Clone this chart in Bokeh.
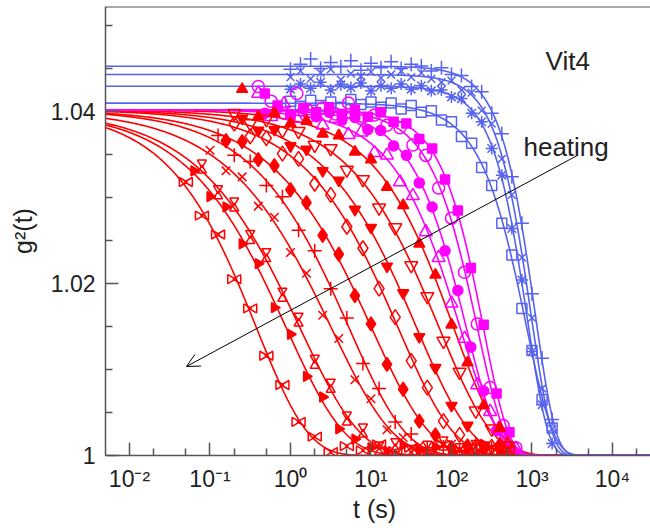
import numpy as np
from bokeh.plotting import figure
from bokeh.models import Range1d, FixedTicker, Arrow, OpenHead, Label, Span
from bokeh.embed import file_html
from bokeh.resources import INLINE

# ---------------- axes ----------------
X_START, X_END = 0.005035, 29650.0
Y_START, Y_END = 1.0, 1.05221
X_TICKS = [0.01, 0.1, 1.0, 10.0, 100.0, 1000.0, 10000.0]
X_TICK_LABELS = ["10\u207b\u00b2", "10\u207b\u00b9", "10\u2070", "10\u00b9", "10\u00b2", "10\u00b3", "10\u2074"]
X_MINOR = [0.02, 0.05, 0.2, 0.5, 2.0, 5.0, 20.0, 50.0, 200.0, 500.0, 2000.0, 5000.0, 20000.0]
Y_TICKS = [1.0, 1.02, 1.04]
Y_TICK_LABELS = ["1", "1.02", "1.04"]
Y_MINOR = [1.005, 1.01, 1.015, 1.025, 1.03, 1.035, 1.045, 1.05]

# ---------------- measurement times ----------------
T_GRID_A = [0.0501, 0.0794, 0.126, 0.200, 0.316, 0.501, 0.794, 1.26, 2.00, 3.16, 5.01,
            7.94, 12.6, 20.0, 31.6, 50.1, 79.4, 126, 200, 316, 501]
T_GRID_B = [0.0631, 0.100, 0.158, 0.251, 0.398, 0.631, 1.00, 1.58, 2.51, 3.98, 6.31,
            10.0, 15.8, 25.1, 39.8, 63.1, 100, 158, 251, 398]
T_GRID_M = [0.398, 0.575, 0.832, 1.20, 1.74, 2.51, 3.63, 5.25, 7.59, 11.0, 15.8, 22.9,
            33.1, 47.9, 69.2, 100, 145, 209, 302, 437, 631]
T_GRID_N = [0.479, 0.692, 1.00, 1.45, 2.09, 3.02, 4.37, 6.31, 9.12, 13.2, 19.1, 27.5,
            39.8, 57.5, 83.2, 120, 174, 251, 363, 525]
T_GRID_BL = [1.00, 1.33, 1.78, 2.37, 3.16, 4.22, 5.62, 7.50, 10.0, 13.3, 17.8, 23.7, 31.6,
             42.2, 56.2, 75.0, 100, 133, 178, 237, 316, 422, 562, 750, 1000, 1334, 1778]

# ---------------- g2 data (red, fast -> slow) ----------------
R1_T = T_GRID_A
R1_G = [1.0318, 1.0279, 1.0257, 1.0205, 1.0171, 1.0116, 1.0082, 1.0039, 1.0022, 1.0004, 1.0011,
        1.0006, 1.0013, 1.0005, 1.0009, 1.0004, 1.0012, 1.0007, 1.0003, 1.0010, 1.0006]
R2_T = T_GRID_B
R2_G = [1.0331, 1.0301, 1.0289, 1.0246, 1.0223, 1.0172, 1.0141, 1.0092, 1.0068, 1.0031, 1.0019,
        1.0009, 1.0005, 1.0012, 1.0006, 1.0010, 1.0003, 1.0008, 1.0013, 1.0005]
R3_T = T_GRID_A[1:]
R3_G = [1.0336, 1.0306, 1.0292, 1.0254, 1.0233, 1.0187, 1.0158, 1.0109, 1.0081, 1.0043, 1.0029,
        1.0008, 1.0012, 1.0004, 1.0009, 1.0014, 1.0006, 1.0010, 1.0003, 1.0008]
R4_T = T_GRID_B[1:]
R4_G = [1.0355, 1.0331, 1.0324, 1.0290, 1.0277, 1.0236, 1.0212, 1.0163, 1.0136, 1.0088, 1.0066,
        1.0030, 1.0021, 1.0011, 1.0005, 1.0013, 1.0008, 1.0004, 1.0010]
R5_T = T_GRID_A[2:]
R5_G = [1.0372, 1.0349, 1.0342, 1.0314, 1.0301, 1.0262, 1.0238, 1.0194, 1.0160, 1.0107, 1.0078,
        1.0039, 1.0025, 1.0009, 1.0010, 1.0006, 1.0013, 1.0008, 1.0004]
R6_T = T_GRID_B[2:]
R6_G = [1.0366, 1.0365, 1.0344, 1.0337, 1.0309, 1.0294, 1.0256, 1.0234, 1.0186, 1.0153, 1.0106,
        1.0077, 1.0040, 1.0024, 1.0009, 1.0011, 1.0007, 1.0012]
R7_T = T_GRID_A[3:]
R7_G = [1.0386, 1.0371, 1.0369, 1.0351, 1.0345, 1.0316, 1.0303, 1.0266, 1.0241, 1.0194, 1.0161,
        1.0110, 1.0079, 1.0040, 1.0024, 1.0009, 1.0010, 1.0013]
R8_T = T_GRID_B[3:]
R8_G = [1.0392, 1.0378, 1.0379, 1.0360, 1.0356, 1.0331, 1.0320, 1.0286, 1.0265, 1.0220, 1.0189,
        1.0138, 1.0102, 1.0058, 1.0035, 1.0012, 1.0009]
R9_T = T_GRID_A[3:]
R9_G = [1.0398, 1.0386, 1.0391, 1.0378, 1.0377, 1.0361, 1.0357, 1.0332, 1.0321, 1.0288, 1.0265,
        1.0221, 1.0185, 1.0133, 1.0097, 1.0052, 1.0031, 1.0011]
R10_T = T_GRID_B[3:]
R10_G = [1.0426, 1.0394, 1.0398, 1.0386, 1.0389, 1.0374, 1.0372, 1.0353, 1.0344, 1.0312, 1.0291,
         1.0246, 1.0210, 1.0152, 1.0108, 1.0058, 1.0032]

# ---------------- g2 data (magenta) ----------------
M1_T = T_GRID_M
M1_G = [1.0421, 1.0394, 1.0409, 1.0392, 1.0401, 1.0384, 1.0392, 1.0373, 1.0376, 1.0352, 1.0349,
        1.0318, 1.0302, 1.0260, 1.0230, 1.0177, 1.0136, 1.0082, 1.0051, 1.0019, 1.0008]
M2_T = T_GRID_N
M2_G = [1.0398, 1.0404, 1.0396, 1.0403, 1.0394, 1.0399, 1.0390, 1.0393, 1.0379, 1.0378, 1.0360,
        1.0349, 1.0317, 1.0289, 1.0238, 1.0192, 1.0126, 1.0075, 1.0029, 1.0011]
M3_T = T_GRID_M
M3_G = [1.0429, 1.0412, 1.0398, 1.0421, 1.0395, 1.0404, 1.0397, 1.0410, 1.0392, 1.0396, 1.0384,
        1.0381, 1.0361, 1.0349, 1.0311, 1.0276, 1.0213, 1.0153, 1.0079, 1.0035, 1.0009]
M4_T = T_GRID_N
M4_G = [1.0421, 1.0407, 1.0396, 1.0404, 1.0399, 1.0405, 1.0397, 1.0402, 1.0394, 1.0399, 1.0388,
        1.0386, 1.0368, 1.0357, 1.0321, 1.0285, 1.0218, 1.0152, 1.0072, 1.0027]

# ---------------- g2 data (blue) ----------------
B1_T = T_GRID_BL
B1_G = [1.0449, 1.0455, 1.0461, 1.0450, 1.0457, 1.0452, 1.0459, 1.0448, 1.0456, 1.0451, 1.0458,
        1.0450, 1.0455, 1.0453, 1.0447, 1.0451, 1.0443, 1.0442, 1.0429, 1.0423, 1.0398, 1.0374,
        1.0324, 1.0270, 1.0188, 1.0113, 1.0042]
B2_T = T_GRID_BL
B2_G = [1.0440, 1.0447, 1.0438, 1.0445, 1.0449, 1.0437, 1.0444, 1.0441, 1.0446, 1.0439, 1.0443,
        1.0447, 1.0440, 1.0445, 1.0438, 1.0434, 1.0436, 1.0425, 1.0422, 1.0401, 1.0386, 1.0345,
        1.0303, 1.0230, 1.0160, 1.0078, 1.0031]
B3_T = T_GRID_BL
B3_G = [1.0426, 1.0432, 1.0427, 1.0434, 1.0425, 1.0431, 1.0428, 1.0433, 1.0424, 1.0430, 1.0427,
        1.0432, 1.0426, 1.0430, 1.0424, 1.0425, 1.0417, 1.0415, 1.0398, 1.0388, 1.0357, 1.0326,
        1.0264, 1.0204, 1.0121, 1.0059, 1.0014]
B4_T = T_GRID_BL
B4_G = [1.0412, 1.0406, 1.0413, 1.0407, 1.0411, 1.0405, 1.0414, 1.0408, 1.0411, 1.0405, 1.0410,
        1.0403, 1.0407, 1.0399, 1.0401, 1.0390, 1.0388, 1.0371, 1.0363, 1.0335, 1.0314, 1.0270,
        1.0233, 1.0171, 1.0122, 1.0065, 1.0032]

# ---------------- KWW fit parameters: g2 = 1 + A exp(-(t/tau)^beta) ----------------
SERIES = ["R1", "R2", "R3", "R4", "R5", "R6", "R7", "R8", "R9", "R10",
          "M1", "M2", "M3", "M4", "B1", "B2", "B3", "B4"]
FIT_AMP = [0.0402] * 10 + [0.0402] * 4 + [0.04527, 0.0443, 0.04294, 0.04097]
FIT_TAU = [0.380, 0.891, 1.318, 3.236, 5.370, 10.23, 21.88, 37.15, 70.79, 107.2,
           128.8, 153.5, 210.4, 250.0, 1089.0, 977.0, 879.0, 851.0]
FIT_BETA = [0.68, 0.60, 0.58, 0.57, 0.62, 0.60, 0.63, 0.64, 0.66, 0.75,
            0.89, 1.10, 1.27, 1.40, 1.70, 1.70, 1.70, 1.30]

# ---------------- annotations ----------------
ARROW_T0, ARROW_G0 = 3670.0, 1.0349
ARROW_T1, ARROW_G1 = 0.051, 1.01035
VIT_T, VIT_G = 1472.0, 1.04593
HEAT_T, HEAT_G = 784.0, 1.03593

RED, MAG, BLUE = "#ff0000", "#ff00ff", "#5662f0"
FONT = "Liberation Sans"

DATA = {
    "R1": (R1_T, R1_G), "R2": (R2_T, R2_G), "R3": (R3_T, R3_G), "R4": (R4_T, R4_G),
    "R5": (R5_T, R5_G), "R6": (R6_T, R6_G), "R7": (R7_T, R7_G), "R8": (R8_T, R8_G),
    "R9": (R9_T, R9_G), "R10": (R10_T, R10_G),
    "M1": (M1_T, M1_G), "M2": (M2_T, M2_G), "M3": (M3_T, M3_G), "M4": (M4_T, M4_G),
    "B1": (B1_T, B1_G), "B2": (B2_T, B2_G), "B3": (B3_T, B3_G), "B4": (B4_T, B4_G),
}
# style: (marker, size, filled)
STYLE = {
    "R1": ("bowtie", 9, False),
    "R2": ("right_triangle", 10, True),
    "R3": ("hourglass", 9, False),
    "R4": ("x", 12, False),
    "R5": ("cross", 14, False),
    "R6": ("diamond", 14, True),
    "R7": ("diamond", 15, False),
    "R8": ("inverted_triangle", 11, True),
    "R9": ("inverted_triangle", 13, False),
    "R10": ("triangle", 11, True),
    "M1": ("triangle", 13, False),
    "M2": ("circle", 10, True),
    "M3": ("circle", 12, False),
    "M4": ("square", 9, True),
    "B1": ("cross", 14, False),
    "B2": ("x", 11, False),
    "B3": ("asterisk", 12, False),
    "B4": ("square", 10, False),
}

FIG_W, FIG_H = 650, 528
BORDER_L, BORDER_R, BORDER_T, BORDER_B = 105, 0, 6, 73
FRAME_W = FIG_W - BORDER_L - BORDER_R
FRAME_H = FIG_H - BORDER_T - BORDER_B


def color_of(name):
    return RED if name.startswith("R") else (MAG if name.startswith("M") else BLUE)


p = figure(width=FIG_W, height=FIG_H, x_axis_type="log",
           x_range=Range1d(X_START, X_END), y_range=Range1d(Y_START, Y_END),
           output_backend="svg", toolbar_location=None,
           min_border_left=BORDER_L, min_border_right=BORDER_R,
           min_border_top=BORDER_T, min_border_bottom=BORDER_B)
p.grid.visible = False
p.outline_line_color = None
p.background_fill_color = "white"
p.border_fill_color = "white"

# fit curves
t_line = np.logspace(np.log10(X_START), np.log10(X_END), 600)
for i, name in enumerate(SERIES):
    g_line = 1.0 + FIT_AMP[i] * np.exp(-(t_line / FIT_TAU[i]) ** FIT_BETA[i])
    p.line(t_line, g_line, line_color=color_of(name), line_width=1.6)

# pixel -> data conversions for the two-triangle (bowtie / hourglass) symbols
px_per_decade = FRAME_W / np.log10(X_END / X_START)
data_per_px_y = (Y_END - Y_START) / FRAME_H

# data markers (blue, magenta, red)
order = ["B4", "B3", "B2", "B1", "M1", "M2", "M3", "M4",
         "R1", "R2", "R3", "R4", "R5", "R6", "R7", "R8", "R9", "R10"]
for name in order:
    t, g = np.asarray(DATA[name][0], float), np.asarray(DATA[name][1], float)
    c = color_of(name)
    marker, size, filled = STYLE[name]
    kw = dict(line_color=c, line_width=1.5, fill_color=c if filled else None)
    if marker in ("bowtie", "hourglass"):
        h = size / 2 * np.sqrt(3)
        off = 0.5 * h
        if marker == "bowtie":
            f = 10 ** (off / px_per_decade)
            p.scatter(t / f, g, marker="triangle", size=size, angle=-np.pi / 2, **kw)
            p.scatter(t * f, g, marker="triangle", size=size, angle=np.pi / 2, **kw)
        else:
            d = off * data_per_px_y
            p.scatter(t, g - d, marker="triangle", size=size, **kw)
            p.scatter(t, g + d, marker="inverted_triangle", size=size, **kw)
    elif marker == "right_triangle":
        p.scatter(t, g, marker="triangle", size=size, angle=-np.pi / 2, **kw)
    else:
        p.scatter(t, g, marker=marker, size=size, **kw)

# axes
for ax in (p.xaxis[0], p.yaxis[0]):
    ax.axis_line_color = "#555555"
    ax.axis_line_width = 1.5
    ax.major_tick_line_color = "#555555"
    ax.minor_tick_line_color = "#555555"
    ax.major_tick_line_width = 1.5
    ax.minor_tick_line_width = 1.5
    ax.major_tick_in = 13
    ax.major_tick_out = 0
    ax.minor_tick_in = 7
    ax.minor_tick_out = 0
    ax.major_label_text_font = FONT
    ax.major_label_text_font_size = "23px"
    ax.major_label_text_color = "#222222"
    ax.axis_label_text_font = FONT
    ax.axis_label_text_font_size = "25px"
    ax.axis_label_text_font_style = "normal"
    ax.axis_label_text_color = "#222222"

p.xaxis.ticker = FixedTicker(ticks=X_TICKS, minor_ticks=X_MINOR)
p.xaxis.major_label_overrides = dict(zip(X_TICKS, X_TICK_LABELS))
p.xaxis.major_label_standoff = 10
p.xaxis.axis_label = "t  (s)"
p.xaxis.axis_label_standoff = 0

p.yaxis.ticker = FixedTicker(ticks=Y_TICKS, minor_ticks=Y_MINOR)
p.yaxis.major_label_overrides = dict(zip(Y_TICKS, Y_TICK_LABELS))
p.yaxis.major_label_standoff = 10
p.yaxis.axis_label = "g\u00b2(t)"
p.yaxis.axis_label_standoff = 11

p.add_layout(Span(location=Y_END, dimension="width", line_color="#555555", line_width=2))

p.add_layout(Arrow(end=OpenHead(size=13, line_width=1, line_color="black"),
                   x_start=ARROW_T0, y_start=ARROW_G0, x_end=ARROW_T1, y_end=ARROW_G1,
                   line_width=1, line_color="black"))
p.add_layout(Label(x=VIT_T, y=VIT_G, text="Vit4", text_font=FONT, text_font_size="26px",
                   text_color="#222222", text_baseline="alphabetic"))
p.add_layout(Label(x=HEAT_T, y=HEAT_G, text="heating", text_font=FONT, text_font_size="26px",
                   text_color="#222222", text_baseline="alphabetic"))

open("out.html", "w").write(file_html(p, INLINE))
